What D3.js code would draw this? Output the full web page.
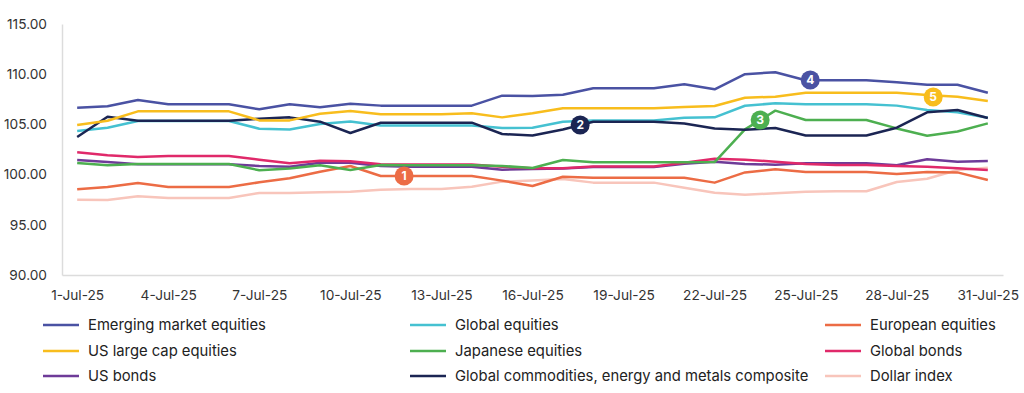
<!DOCTYPE html>
<html lang="en">
<head>
    <title>Asset class performance, July 2025</title>
    <script src="https://d3js.org/d3.v7.min.js"></script>
    <style>
        body { margin: 0; background: #fff; }
        text { font-family: Inter, "Noto Sans", sans-serif; }
    </style>
</head>
<body>
    <div id="chart"></div>

    <script>
        // Days of July 2025 (one point per day)
        const days = [1, 2, 3, 4, 5, 6, 7, 8, 9, 10, 11, 12, 13, 14, 15, 16,
                      17, 18, 19, 20, 21, 22, 23, 24, 25, 26, 27, 28, 29, 30, 31];

        // Tick labels on the x-axis (every third day)
        const tickDays = [1, 4, 7, 10, 13, 16, 19, 22, 25, 28, 31];
        const tickLabels = ["1-Jul-25", "4-Jul-25", "7-Jul-25", "10-Jul-25", "13-Jul-25", "16-Jul-25",
                            "19-Jul-25", "22-Jul-25", "25-Jul-25", "28-Jul-25", "31-Jul-25"];

        const yTicks = [90, 95, 100, 105, 110, 115];

        // Series values (index)
        const emerging = [106.66, 106.8, 107.43, 107.0, 107.0, 107.0, 106.5, 107.0, 106.7, 107.06, 106.87,
                          106.87, 106.87, 106.87, 107.86, 107.83, 107.96, 108.6, 108.6, 108.6, 109.0,
                          108.5, 110.0, 110.2, 109.4, 109.4, 109.4, 109.2, 108.95, 108.95, 108.16];
        const globalEquities = [104.34, 104.67, 105.34, 105.34, 105.34, 105.34, 104.57, 104.5, 105.04, 105.3, 104.9,
                                104.9, 104.9, 104.9, 104.64, 104.67, 105.27, 105.4, 105.4, 105.4, 105.67,
                                105.7, 106.86, 107.1, 107.0, 107.0, 107.0, 106.87, 106.43, 106.2, 105.67];
        const european = [98.54, 98.77, 99.16, 98.77, 98.77, 98.77, 99.23, 99.63, 100.29, 100.86, 99.86,
                          99.86, 99.86, 99.86, 99.4, 98.86, 99.79, 99.69, 99.69, 99.69, 99.69,
                          99.2, 100.22, 100.53, 100.26, 100.26, 100.26, 100.06, 100.26, 100.22, 99.46];
        const usLargeCap = [104.94, 105.37, 106.3, 106.3, 106.3, 106.3, 105.4, 105.4, 106.07, 106.33, 106.0,
                            106.0, 106.0, 106.1, 105.7, 106.1, 106.6, 106.6, 106.6, 106.6, 106.73,
                            106.83, 107.66, 107.76, 108.16, 108.16, 108.16, 108.16, 107.93, 107.76, 107.33];
        const japanese = [101.16, 100.93, 101.06, 101.06, 101.06, 101.06, 100.43, 100.6, 100.93, 100.46, 100.96,
                          100.93, 100.93, 100.93, 100.86, 100.65, 101.45, 101.22, 101.22, 101.22, 101.22,
                          101.25, 104.5, 106.37, 105.44, 105.44, 105.44, 104.6, 103.87, 104.3, 105.1];
        const globalBonds = [102.22, 101.92, 101.75, 101.85, 101.85, 101.85, 101.49, 101.12, 101.39, 101.32, 101.02,
                             101.0, 101.0, 101.0, 100.79, 100.63, 100.63, 100.8, 100.8, 100.8, 101.19,
                             101.59, 101.49, 101.29, 101.06, 100.96, 100.96, 100.86, 100.79, 100.63, 100.46];
        const usBonds = [101.45, 101.25, 101.02, 101.02, 101.02, 101.02, 100.86, 100.79, 101.19, 101.19, 100.86,
                         100.79, 100.79, 100.79, 100.49, 100.56, 100.6, 100.76, 100.76, 100.76, 101.09,
                         101.29, 101.06, 100.99, 101.12, 101.12, 101.12, 100.93, 101.52, 101.29, 101.35];
        const commodities = [103.74, 105.77, 105.37, 105.37, 105.37, 105.37, 105.57, 105.7, 105.27, 104.14, 105.17,
                             105.17, 105.17, 105.17, 104.04, 103.9, 104.5, 105.27, 105.27, 105.27, 105.1,
                             104.6, 104.47, 104.64, 103.9, 103.9, 103.9, 104.67, 106.2, 106.43, 105.64];
        const dollarIndex = [97.5, 97.47, 97.84, 97.67, 97.67, 97.67, 98.17, 98.17, 98.25, 98.3, 98.5,
                             98.57, 98.57, 98.8, 99.3, 99.42, 99.56, 99.2, 99.2, 99.2, 98.7,
                             98.2, 98.0, 98.14, 98.3, 98.34, 98.34, 99.26, 99.59, 100.46, 100.69];

        // Legend order (3 columns x 3 rows, filled row by row)
        const seriesNames = ["Emerging market equities", "Global equities", "European equities",
                             "US large cap equities", "Japanese equities", "Global bonds",
                             "US bonds", "Global commodities, energy and metals composite", "Dollar index"];
        const seriesValues = [emerging, globalEquities, european, usLargeCap, japanese, globalBonds,
                              usBonds, commodities, dollarIndex];
        const seriesColors = ["#4a52a3", "#45c1d1", "#ec6c45", "#f8bd1d", "#4daf50", "#e0296a",
                              "#6e3b98", "#1b2553", "#f8c5bb"];

        // Numbered markers: label, series index, day position, value
        const markerLabels = ["1", "2", "3", "4", "5"];
        const markerSeries = [2, 7, 4, 0, 3];
        const markerDays = [11.77, 17.57, 23.5, 25.15, 29.2];
        const markerValues = [99.86, 104.94, 105.44, 109.42, 107.73];

        const width = 1024;
        const height = 393;
        const plotLeft = 62, plotRight = 1003, plotTop = 24, plotBottom = 275;

        const svg = d3.select("#chart")
            .append("svg")
            .attr("width", width)
            .attr("height", height);

        const x = d3.scaleLinear()
            .domain([0.5, 31.5])
            .range([plotLeft, plotRight]);

        const y = d3.scaleLinear()
            .domain([90, 115])
            .range([plotBottom, plotTop]);

        // y-axis
        const yAxis = svg.append("g")
            .attr("transform", `translate(${plotLeft},0)`)
            .call(d3.axisLeft(y).tickValues(yTicks).tickFormat(d3.format(".2f")).tickSize(0).tickPadding(15));
        yAxis.select(".domain").attr("stroke", "#dcdcdc").attr("stroke-width", 1.5);
        yAxis.selectAll("text").attr("font-size", 13.7).attr("fill", "#333");

        // x-axis
        const xAxis = svg.append("g")
            .attr("transform", `translate(0,${plotBottom})`)
            .call(d3.axisBottom(x).tickValues(tickDays)
                .tickFormat((d, i) => tickLabels[i]).tickSize(0).tickPadding(15));
        xAxis.select(".domain").attr("stroke", "#dcdcdc").attr("stroke-width", 1.5);
        xAxis.selectAll("text").attr("font-size", 13.7).attr("fill", "#333");

        // lines
        const line = d3.line()
            .x((d, i) => x(days[i]))
            .y(d => y(d));

        const drawOrder = [8, 2, 6, 5, 4, 1, 7, 3, 0];
        svg.append("g")
            .selectAll("path")
            .data(drawOrder)
            .join("path")
            .attr("d", k => line(seriesValues[k]))
            .attr("fill", "none")
            .attr("stroke", k => seriesColors[k])
            .attr("stroke-width", 2.5)
            .attr("stroke-linejoin", "round");

        // numbered markers
        const markers = svg.append("g")
            .selectAll("g")
            .data(markerLabels)
            .join("g")
            .attr("transform", (d, i) => `translate(${x(markerDays[i])},${y(markerValues[i])})`);
        markers.append("circle")
            .attr("r", 9.5)
            .attr("fill", (d, i) => seriesColors[markerSeries[i]]);
        markers.append("text")
            .attr("text-anchor", "middle")
            .attr("dy", "0.36em")
            .attr("font-size", 12)
            .attr("font-weight", 700)
            .attr("fill", "#fff")
            .text(d => d);

        // legend
        const colX = [43, 410, 825];
        const rowY = [325, 351, 376];
        const legend = svg.append("g")
            .selectAll("g")
            .data(seriesNames)
            .join("g")
            .attr("transform", (d, i) => `translate(${colX[i % 3]},${rowY[Math.floor(i / 3)]})`);
        legend.append("line")
            .attr("x1", 0).attr("x2", 36)
            .attr("stroke", (d, i) => seriesColors[i])
            .attr("stroke-width", 2.5);
        legend.append("text")
            .attr("x", 45)
            .attr("dy", "0.35em")
            .attr("font-size", 14.8)
            .attr("fill", "#222")
            .text(d => d);
    </script>
</body>
</html>
